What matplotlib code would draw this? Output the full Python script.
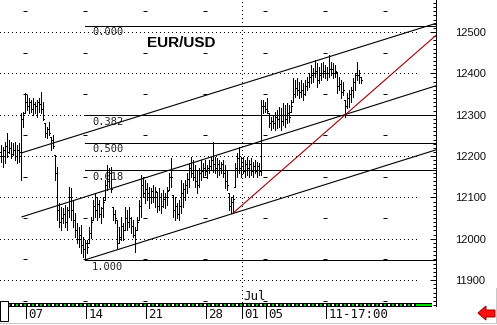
import matplotlib
matplotlib.use('Agg')
import matplotlib.pyplot as plt
import matplotlib.transforms as mtransforms
from matplotlib.patches import Rectangle, Polygon
from matplotlib.lines import Line2D
import numpy as np

plt.rcParams['lines.scale_dashes'] = False

# 4-hour bars EUR/USD (price x 10000)
highs = [
    12227, 12222, 12234, 12256, 12239, 12234, 12232, 12234, 12227, 12232,
    12304, 12306, 12353, 12348, 12340, 12336, 12340, 12331, 12336, 12340,
    12355, 12331, 12280, 12270, 12282, 12246, 12251, 12203, 12174, 12087,
    12077, 12075, 12082, 12077, 12125, 12123, 12094, 12062, 12038, 12028,
    12033, 12004, 11997, 11997, 12028, 12053, 12094, 12111, 12101, 12094,
    12077, 12101, 12142, 12178, 12171, 12174, 12077, 12070, 12045, 12028,
    12053, 12038, 12077, 12070, 12077, 12053, 12045, 12028, 12053, 12094,
    12154, 12149, 12142, 12135, 12125, 12123, 12130, 12125, 12113, 12123,
    12111, 12118, 12111, 12125, 12159, 12195, 12106, 12101, 12087, 12094,
    12142, 12135, 12142, 12159, 12183, 12198, 12190, 12178, 12166, 12171,
    12190, 12183, 12190, 12178, 12190, 12198, 12234, 12198, 12195, 12190,
    12186, 12190, 12178, 12166, 12111, 12101, 12106, 12183, 12207, 12222,
    12198, 12198, 12190, 12198, 12190, 12195, 12186, 12190, 12186, 12183,
    12336, 12336, 12331, 12340, 12304, 12294, 12299, 12306, 12311, 12318,
    12316, 12328, 12323, 12328, 12323, 12336, 12389, 12384, 12389, 12379,
    12384, 12377, 12384, 12391, 12401, 12420, 12413, 12432, 12425, 12415,
    12425, 12427, 12420, 12415, 12444, 12427, 12425, 12420, 12403, 12391,
    12384, 12379, 12336, 12353, 12360, 12367, 12389, 12401, 12427, 12408,
    12391]
lows = [
    12186, 12174, 12183, 12198, 12207, 12195, 12203, 12190, 12183, 12186,
    12142, 12270, 12304, 12311, 12304, 12306, 12299, 12304, 12294, 12306,
    12304, 12287, 12246, 12244, 12251, 12215, 12220, 12142, 12045, 12028,
    12021, 12038, 12028, 12021, 12053, 12045, 12028, 12004, 11990, 11980,
    11966, 11956, 11949, 11966, 11990, 12002, 12045, 12053, 12045, 12053,
    12038, 12053, 12094, 12118, 12125, 12113, 12045, 12038, 11978, 11990,
    11997, 11997, 12021, 12021, 12028, 12014, 12004, 11968, 12021, 12045,
    12053, 12101, 12087, 12094, 12075, 12087, 12089, 12077, 12065, 12070,
    12062, 12077, 12075, 12082, 12118, 12125, 12053, 12045, 12050, 12045,
    12062, 12077, 12094, 12111, 12125, 12149, 12142, 12125, 12111, 12125,
    12142, 12149, 12154, 12146, 12159, 12166, 12161, 12159, 12149, 12154,
    12159, 12149, 12123, 12118, 12070, 12062, 12062, 12125, 12149, 12159,
    12149, 12159, 12149, 12154, 12149, 12154, 12149, 12159, 12149, 12154,
    12154, 12304, 12306, 12304, 12270, 12263, 12268, 12263, 12268, 12270,
    12263, 12275, 12270, 12280, 12282, 12306, 12331, 12343, 12348, 12340,
    12343, 12336, 12348, 12360, 12367, 12377, 12379, 12391, 12367, 12377,
    12384, 12391, 12389, 12384, 12391, 12396, 12389, 12391, 12353, 12360,
    12340, 12348, 12294, 12316, 12318, 12331, 12343, 12360, 12384, 12377,
    12377]
closes = [
    12200, 12215, 12225, 12210, 12220, 12205, 12215, 12200, 12215, 12210,
    12290, 12300, 12330, 12320, 12330, 12315, 12325, 12320, 12330, 12325,
    12315, 12290, 12255, 12265, 12255, 12240, 12225, 12160, 12070, 12040,
    12050, 12060, 12040, 12070, 12100, 12070, 12045, 12020, 12000, 12010,
    11985, 11975, 11990, 11980, 12015, 12040, 12080, 12070, 12085, 12060,
    12075, 12090, 12130, 12140, 12160, 12120, 12060, 12050, 11990, 12005,
    12030, 12020, 12050, 12040, 12050, 12030, 12010, 12020, 12040, 12080,
    12130, 12110, 12120, 12110, 12100, 12115, 12100, 12115, 12080, 12100,
    12080, 12095, 12100, 12115, 12150, 12150, 12070, 12080, 12060, 12080,
    12110, 12120, 12130, 12145, 12170, 12160, 12150, 12140, 12130, 12160,
    12165, 12170, 12165, 12170, 12175, 12190, 12180, 12170, 12180, 12170,
    12180, 12160, 12140, 12130, 12080, 12090, 12095, 12170, 12195, 12170,
    12175, 12165, 12180, 12170, 12180, 12165, 12175, 12165, 12175, 12165,
    12320, 12320, 12315, 12310, 12280, 12285, 12280, 12295, 12290, 12300,
    12285, 12300, 12290, 12305, 12295, 12320, 12350, 12365, 12360, 12355,
    12360, 12350, 12370, 12380, 12390, 12395, 12400, 12405, 12385, 12395,
    12400, 12405, 12400, 12400, 12410, 12410, 12400, 12405, 12370, 12375,
    12355, 12360, 12320, 12340, 12350, 12360, 12380, 12395, 12395, 12390,
    12385]
first_open = 12210

# fibonacci retracement
fib_low = 11949
fib_high = 12515
fib_start = 42
fib_ratios = [0.0, 0.382, 0.5, 0.618, 1.0]
fib_labels = ['0.000', '0.382', '0.500', '0.618', '1.000']

# trend lines: (bar, price) -> (bar, price)
upper_line = [(10.5, 12208), (217.5, 12521)]
middle_line = [(10.5, 12053), (217.5, 12370)]
lower_line = [(42, 11949), (217.5, 12215)]
red_line = [(116, 12062), (217.5, 12492)]

price_ticks = [11900, 12000, 12100, 12200, 12300, 12400, 12500]
half_levels = [11850, 11950, 12050, 12150, 12250, 12350, 12450, 12550]
half_marks_x = [12, 42, 72, 102, 132, 162, 192]

date_ticks = [13, 43, 73, 103, 121, 133, 163]
date_labels = ['07', '14', '21', '28', '01', '05', '11-17:00']
month_tick = 121
month_label = 'Jul'

W, H = 497, 325
PX = 0.72  # one pixel in points

fig = plt.figure(figsize=(W / 100, H / 100), dpi=100)
ax = fig.add_axes([0, (H - 306) / H, 436 / W, 306 / H])
ax.set_xlim(-0.5, 217.5)
ax.set_ylim(11837.4, 12577.4)

for s in ['left', 'top', 'bottom']:
    ax.spines[s].set_visible(False)
ax.spines['right'].set_linewidth(PX)

ax.yaxis.tick_right()
ax.set_yticks(price_ticks)
ax.set_yticks(np.arange(11840, 12580, 10), minor=True)
ax.tick_params(axis='y', which='major', direction='in', length=4, width=PX, pad=13.5,
               labelsize=8, labelcolor='#111111')
ax.tick_params(axis='y', which='minor', direction='in', length=2, width=PX)
for t in ax.get_yticklabels():
    t.set_fontfamily('Liberation Sans')
ax.set_xticks([])

dots = (0, (PX, 3 * PX))
# dotted grid
ax.hlines(price_ticks, -0.5, 208.5, colors='k', lw=PX, linestyles=[dots], antialiased=False, zorder=1)
ax.vlines(month_tick - 0.5, 11837.4, 12577.4, colors='k', lw=PX, linestyles=[dots], antialiased=False, zorder=1)
# small dashes on half levels
for hx in half_marks_x:
    ax.plot([hx] * len(half_levels), half_levels, ls='none', marker='_', ms=2.5, mew=PX,
            color='k', antialiased=False, zorder=1)

# fibonacci levels
fib_prices = [fib_high - r * (fib_high - fib_low) for r in fib_ratios]
ax.hlines(fib_prices, fib_start, 217.5, colors='k', lw=PX, antialiased=False, zorder=2)
for p, lab in zip(fib_prices, fib_labels):
    ax.text(fib_start + 3.5, p - 4, lab, fontsize=7.5, family='DejaVu Sans Mono',
            color='#222222', ha='left', va='top', zorder=2)

# trend lines
for ln, col in [(upper_line, 'k'), (middle_line, 'k'), (lower_line, 'k'), (red_line, '#a00000')]:
    ax.plot([ln[0][0], ln[1][0]], [ln[0][1], ln[1][1]], color=col, lw=0.8, antialiased=True, zorder=4)

# OHLC bars
x = np.arange(len(highs))
hi = np.array(highs)
lo = np.array(lows)
cl = np.array(closes)
op = np.clip(np.r_[first_open, cl[:-1]], lo, hi)
ax.vlines(x, lo, hi, colors='k', lw=PX, antialiased=False, zorder=3)
ax.hlines(op, x - 0.5, x, colors='k', lw=PX, antialiased=False, zorder=3)
ax.hlines(cl, x, x + 0.5, colors='k', lw=PX, antialiased=False, zorder=3)

ax.text(147 / 436, 1 - 47 / 306, 'EUR/USD', transform=ax.transAxes, fontsize=11,
        family='Liberation Sans', fontweight='bold', ha='left', va='baseline', zorder=5)

# bottom strip
strip_y = 1.5 / 306
ax.plot([8 / 436, 432 / 436], [strip_y, strip_y], transform=ax.transAxes, color='k',
        lw=4 * PX, solid_capstyle='butt', clip_on=False)
ax.plot([8 / 436, 416 / 436], [strip_y, strip_y], transform=ax.transAxes, color='#00e000',
        lw=2 * PX, linestyle=(0, (2 * PX, 6 * PX)), clip_on=False)
ax.plot([8 / 436, 416 / 436], [strip_y, strip_y], transform=ax.transAxes, color='white',
        lw=2 * PX, linestyle=(4 * PX, (2 * PX, 6 * PX)), clip_on=False)
ax.plot([416 / 436, 432 / 436], [strip_y, strip_y], transform=ax.transAxes, color='#00e000',
        lw=2 * PX, solid_capstyle='butt', clip_on=False)

# date ticks and labels
trans = mtransforms.blended_transform_factory(ax.transData, ax.transAxes)
ax.vlines([d - 0.5 for d in date_ticks], -12 / 306, 0, transform=trans, colors='k',
          lw=PX, antialiased=False, clip_on=False)
for d, lab in zip(date_ticks, date_labels):
    ax.text(d + 0.6, -12.5 / 306, lab, transform=trans, fontsize=9, family='DejaVu Sans Mono',
            ha='left', va='baseline', color='#111111')
ax.text(month_tick + 0.3, 6 / 306, month_label, transform=trans, fontsize=9,
        family='DejaVu Sans Mono', ha='left', va='baseline', color='#111111')

# frame decorations
fig.patches.append(Rectangle((0, (H - 321) / H), 8 / W, 20 / H, transform=fig.transFigure,
                             facecolor='white', edgecolor='k', lw=PX))
fig.lines.append(Line2D([0, 495 / W], [(H - 322.5) / H] * 2, transform=fig.transFigure,
                        color='#c8c8c8', lw=PX))
fig.lines.append(Line2D([495.5 / W] * 2, [(H - 322.5) / H, (H - 288) / H], transform=fig.transFigure,
                        color='#c8c8c8', lw=PX))
arrow = [(478, 313), (486, 306), (486, 310), (495, 310), (495, 317), (486, 317), (486, 320)]
fig.patches.append(Polygon([(px / W, (H - py) / H) for px, py in arrow], closed=True,
                           transform=fig.transFigure, facecolor='#ff1010', edgecolor='#a00000', lw=PX))

fig.savefig('out.png', dpi=100)
